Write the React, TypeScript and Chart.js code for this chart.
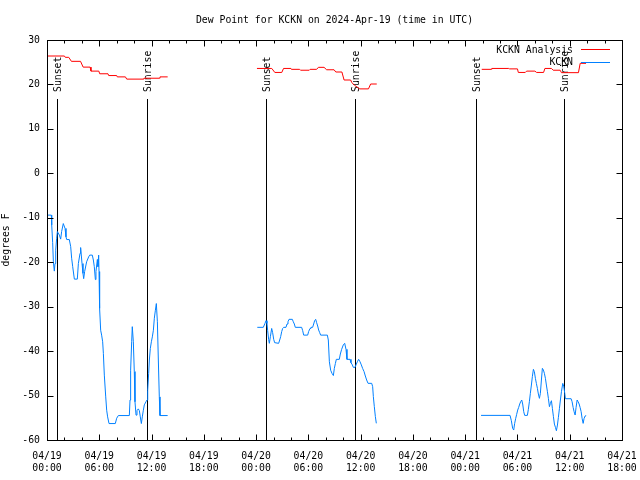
import React, { useEffect, useRef } from 'react';
import { Chart, registerables } from 'chart.js';

Chart.register(...registerables);

const FONT_FAMILY = '"DejaVu Sans Mono", "Liberation Mono", monospace';
const FONT_SIZE = 9.8;

const titleText = 'Dew Point for KCKN on 2024-Apr-19 (time in UTC)';
const yAxisTitle = 'degrees F';
const analysisLabel = 'KCKN Analysis';
const obsLabel = 'KCKN';

// x axis: hours since 2024-04-19 00:00 UTC
const xMin = 0;
const xMax = 66;
const xTickHours = [0, 6, 12, 18, 24, 30, 36, 42, 48, 54, 60, 66];
const xTickDates = ['04/19', '04/19', '04/19', '04/19', '04/20', '04/20', '04/20', '04/20', '04/21', '04/21', '04/21', '04/21'];
const xTickTimes = ['00:00', '06:00', '12:00', '18:00', '00:00', '06:00', '12:00', '18:00', '00:00', '06:00', '12:00', '18:00'];
const yTicks = [30, 20, 10, 0, -10, -20, -30, -40, -50, -60];

// Sunset / sunrise times (hours)
const sunsetHours = [1.16, 25.17, 49.24];
const sunriseHours = [11.51, 35.39, 59.38];

// KCKN Analysis (red)
const analysisHours1 = [0, 2.0, 2.1, 2.5, 2.8, 3.85, 4.15, 4.95, 5.05, 5.95, 6.05, 7.0, 7.08, 8.0, 8.07, 9.0, 9.15, 11.05, 11.13, 12.9, 12.97, 13.85];
const analysisValues1 = [26.4, 26.4, 26.1, 26.1, 25.2, 25.2, 23.9, 23.9, 23.0, 23.0, 22.4, 22.4, 22.0, 22.0, 21.7, 21.7, 21.2, 21.2, 21.4, 21.4, 21.7, 21.7];
const analysisHours2 = [24.1, 25.8, 26.15, 26.95, 27.15, 28.0, 28.05, 29.0, 29.1, 30.1, 30.2, 30.95, 31.15, 31.8, 32.1, 32.95, 33.15, 33.85, 34.1, 34.85, 35.0, 35.3, 35.9, 36.9, 37.15, 37.85];
const analysisValues2 = [23.6, 23.6, 22.7, 22.7, 23.6, 23.6, 23.4, 23.4, 23.2, 23.2, 23.4, 23.4, 23.85, 23.85, 23.3, 23.3, 22.8, 22.8, 21.0, 21.0, 20.4, 19.8, 19.0, 19.0, 20.1, 20.1];
const analysisHours3 = [49.9, 51.0, 51.05, 53.0, 53.1, 54.0, 54.1, 54.9, 55.05, 56.0, 56.2, 57.0, 57.15, 57.9, 58.1, 58.9, 59.05, 61.0, 61.2, 61.87];
const analysisValues3 = [23.4, 23.4, 23.6, 23.6, 23.5, 23.5, 22.7, 22.7, 23.0, 23.0, 22.7, 22.7, 23.6, 23.6, 23.2, 23.2, 22.65, 22.65, 24.75, 24.75];

// KCKN observations (blue)
const obsHours1 = [0.00, 0.50, 0.54, 0.65, 0.73, 0.84, 0.92, 1.00, 1.11, 1.19, 1.42, 1.57, 1.68, 1.87, 2.07, 2.18, 2.26, 2.56, 2.72, 2.83, 2.95, 3.14, 3.48, 3.60, 3.79, 3.86, 4.02, 4.13, 4.21, 4.32, 4.55, 4.78, 4.90, 5.20, 5.32, 5.43, 5.55, 5.62, 5.78, 5.85, 5.93, 5.97, 6.04, 6.16, 6.27, 6.39, 6.47, 6.58, 6.74, 6.85, 6.96, 7.12, 7.84, 8.00, 8.19, 9.45, 9.53, 9.60, 9.72, 9.79, 9.91, 10.02, 10.10, 10.22, 10.33, 10.48, 10.60, 10.71, 10.83, 10.94, 11.06, 11.17, 11.36, 11.48, 11.56, 11.67, 11.75, 11.86, 11.98, 12.09, 12.21, 12.32, 12.44, 12.55, 12.67, 12.78, 12.89, 12.97, 13.85];
const obsValues1 = [-9.4, -9.4, -11.6, -15.6, -19.9, -22.0, -20.3, -17.3, -14.6, -13.1, -13.9, -14.8, -13.1, -11.3, -12.4, -14.3, -14.9, -14.9, -16.5, -19.1, -21.0, -23.8, -23.8, -20.3, -18.0, -16.7, -20.3, -22.5, -23.7, -22.1, -19.9, -18.8, -18.4, -18.4, -19.5, -21.0, -23.9, -22.1, -19.4, -21.0, -18.4, -22.1, -30.4, -35.3, -36.4, -37.9, -40.5, -45.4, -50.3, -53.3, -54.8, -56.3, -56.3, -55.1, -54.5, -54.5, -51.0, -44.3, -37.9, -34.5, -37.9, -44.6, -51.4, -54.4, -53.4, -53.0, -53.4, -54.8, -56.3, -54.8, -53.3, -52.1, -51.4, -51.0, -48.8, -45.0, -42.0, -39.4, -37.9, -36.8, -35.3, -32.6, -30.8, -29.3, -33.4, -42.0, -50.3, -54.5, -54.5];
const obsHours2 = [24.14, 24.83, 25.02, 25.14, 25.25, 25.33, 25.44, 25.52, 25.64, 25.79, 25.90, 26.02, 26.13, 26.59, 26.71, 26.82, 26.94, 27.05, 27.17, 27.43, 27.55, 27.66, 27.78, 28.16, 28.27, 28.39, 28.50, 29.23, 29.35, 29.46, 29.92, 30.03, 30.19, 30.30, 30.49, 30.61, 30.72, 30.84, 30.95, 31.07, 31.18, 31.30, 31.41, 32.18, 32.29, 32.41, 32.56, 32.71, 32.87, 32.98, 33.10, 33.21, 33.55, 33.67, 33.82, 34.01, 34.17, 34.32, 34.43, 34.78, 34.89, 35.05, 35.16, 35.35, 35.47, 35.62, 35.77, 35.93, 36.08, 36.23, 36.39, 36.54, 36.69, 36.85, 37.27, 37.38, 37.46, 37.57, 37.69, 37.80];
const obsValues2 = [-34.65, -34.65, -33.75, -33.15, -33.75, -35.4, -37.35, -38.25, -36.75, -34.9, -35.85, -37.35, -38.1, -38.25, -37.5, -36.75, -35.6, -34.9, -34.65, -34.65, -33.9, -33.4, -32.85, -32.85, -33.4, -33.9, -34.65, -34.65, -35.4, -36.4, -36.4, -35.6, -34.9, -34.65, -34.65, -33.9, -33.15, -32.85, -33.6, -34.35, -35.25, -35.85, -36.4, -36.4, -37.5, -42.4, -44.3, -45.0, -45.5, -43.9, -42.8, -41.85, -41.85, -40.65, -39.6, -38.6, -38.25, -39.6, -41.85, -41.85, -42.6, -43.1, -43.65, -43.65, -43.1, -42.4, -41.85, -42.4, -43.1, -43.9, -44.6, -45.6, -46.5, -47.25, -47.25, -48.0, -50.25, -52.5, -54.75, -56.25];
const obsHours3 = [49.82, 53.15, 53.30, 53.45, 53.57, 53.68, 53.80, 53.91, 54.03, 54.14, 54.26, 54.37, 54.49, 54.60, 54.72, 54.83, 55.14, 55.25, 55.37, 55.48, 55.60, 55.71, 55.83, 55.94, 56.06, 56.17, 56.29, 56.40, 56.52, 56.63, 56.75, 56.86, 56.98, 57.09, 57.21, 57.32, 57.44, 57.55, 57.67, 57.78, 57.90, 58.01, 58.13, 58.24, 58.36, 58.47, 58.59, 58.70, 58.82, 58.93, 59.05, 59.20, 59.31, 59.43, 59.50, 60.16, 60.27, 60.39, 60.50, 60.62, 60.73, 60.85, 60.96, 61.08, 61.19, 61.31, 61.42, 61.54, 61.65, 61.77, 61.84];
const obsValues3 = [-54.46, -54.46, -55.66, -57.38, -57.76, -56.26, -55.13, -54.23, -53.26, -52.66, -51.9, -51.38, -51.0, -51.9, -53.63, -54.46, -54.46, -53.1, -51.38, -49.5, -47.63, -45.75, -44.1, -44.63, -46.13, -47.26, -48.38, -49.66, -50.63, -49.5, -46.5, -43.88, -44.26, -45.0, -46.13, -47.63, -49.13, -50.63, -52.5, -51.76, -51.16, -52.88, -54.76, -56.41, -57.16, -57.91, -56.63, -54.9, -52.88, -51.0, -49.13, -47.26, -47.86, -49.5, -50.71, -50.71, -51.38, -52.66, -53.63, -54.38, -52.66, -51.0, -51.38, -51.9, -52.66, -53.63, -55.13, -56.26, -55.13, -54.6, -54.46];

const RED = '#ff0000';
const BLUE = '#0080ff';

type Pt = { x: number; y: number | null };

function joinSegments(segs: Array<[number[], number[]]>): Pt[] {
  const out: Pt[] = [];
  segs.forEach(([hs, vs], si) => {
    if (si > 0) out.push({ x: (out[out.length - 1].x + hs[0]) / 2, y: null });
    hs.forEach((h, i) => out.push({ x: h, y: vs[i] }));
  });
  return out;
}

const decorPlugin = {
  id: 'decor',
  beforeDatasetsDraw(chart: any) {
    const { ctx, chartArea: a, scales } = chart;
    const x = scales.x;
    ctx.save();
    ctx.strokeStyle = '#000';
    ctx.lineWidth = 1;
    ctx.fillStyle = '#000';
    ctx.font = `${FONT_SIZE}px ${FONT_FAMILY}`;
    const lineTop = a.top + 59;
    const labelY = a.top + 52;
    const drawSun = (hours: number[], text: string) => {
      hours.forEach((h) => {
        const px = Math.round(x.getPixelForValue(h)) + 0.5;
        ctx.beginPath();
        ctx.moveTo(px, lineTop);
        ctx.lineTo(px, a.bottom);
        ctx.stroke();
        ctx.save();
        ctx.translate(px + 1, labelY);
        ctx.rotate(-Math.PI / 2);
        ctx.textAlign = 'left';
        ctx.textBaseline = 'middle';
        ctx.fillText(text, 0, 0);
        ctx.restore();
      });
    };
    drawSun(sunsetHours, 'Sunset');
    drawSun(sunriseHours, 'Sunrise');
    ctx.restore();
  },
  afterDraw(chart: any) {
    const { ctx, chartArea: a, scales } = chart;
    const x = scales.x;
    const y = scales.y;
    ctx.save();
    ctx.strokeStyle = '#000';
    ctx.lineWidth = 1;
    const L = Math.round(a.left) + 0.5;
    const R = Math.round(a.right) + 0.5;
    const T = Math.round(a.top) + 0.5;
    const B = Math.round(a.bottom) + 0.5;
    const seg = (x1: number, y1: number, x2: number, y2: number) => {
      ctx.beginPath();
      ctx.moveTo(x1, y1);
      ctx.lineTo(x2, y2);
      ctx.stroke();
    };
    // ticks
    for (let h = xMin; h <= xMax; h += 2) {
      const px = Math.round(x.getPixelForValue(h)) + 0.5;
      const len = h % 6 === 0 ? 6 : 3;
      seg(px, T, px, T + len);
      seg(px, B, px, B - len);
    }
    yTicks.forEach((v) => {
      const py = Math.round(y.getPixelForValue(v)) + 0.5;
      seg(L, py, L + 6, py);
      seg(R, py, R - 6, py);
    });
    // border
    ctx.strokeRect(L, T, R - L, B - T);

    ctx.fillStyle = '#000';
    ctx.font = `${FONT_SIZE}px ${FONT_FAMILY}`;
    // title
    ctx.textAlign = 'center';
    ctx.textBaseline = 'middle';
    ctx.fillText(titleText, (a.left + a.right) / 2, 20);
    // y axis title
    ctx.save();
    ctx.translate(6, (a.top + a.bottom) / 2);
    ctx.rotate(-Math.PI / 2);
    ctx.fillText(yAxisTitle, 0, 0);
    ctx.restore();
    // legend
    ctx.textAlign = 'right';
    ctx.fillText(analysisLabel, a.right - 49, a.top + 10);
    ctx.fillText(obsLabel, a.right - 49, a.top + 22.5);
    ctx.strokeStyle = RED;
    seg(a.right - 41, a.top + 9.5, a.right - 12, a.top + 9.5);
    ctx.strokeStyle = BLUE;
    seg(a.right - 41, a.top + 22.5, a.right - 12, a.top + 22.5);
    ctx.restore();
  },
};

export default function App() {
  const canvasRef = useRef<HTMLCanvasElement | null>(null);

  useEffect(() => {
    document.body.style.margin = '0';
    const canvas = canvasRef.current;
    if (!canvas) return;
    const chart = new Chart(canvas, {
      type: 'line',
      data: {
        datasets: [
          {
            label: analysisLabel,
            data: joinSegments([
              [analysisHours1, analysisValues1],
              [analysisHours2, analysisValues2],
              [analysisHours3, analysisValues3],
            ]) as any,
            borderColor: RED,
            borderWidth: 1,
            pointRadius: 0,
            tension: 0,
            spanGaps: false,
            fill: false,
          },
          {
            label: obsLabel,
            data: joinSegments([
              [obsHours1, obsValues1],
              [obsHours2, obsValues2],
              [obsHours3, obsValues3],
            ]) as any,
            borderColor: BLUE,
            borderWidth: 1,
            pointRadius: 0,
            tension: 0,
            spanGaps: false,
            fill: false,
          },
        ],
      },
      options: {
        animation: false,
        responsive: false,
        devicePixelRatio: 1,
        layout: { padding: { top: 40, right: 18, bottom: 0, left: 0 } },
        plugins: {
          legend: { display: false },
          title: { display: false },
          tooltip: { enabled: false },
        },
        scales: {
          x: {
            type: 'linear',
            min: xMin,
            max: xMax,
            grid: { display: false, drawTicks: false },
            border: { display: false },
            afterFit: (s: any) => {
              s.height = 40;
              s.paddingLeft = 0;
              s.paddingRight = 0;
            },
            ticks: {
              stepSize: 6,
              autoSkip: false,
              maxRotation: 0,
              minRotation: 0,
              padding: 11,
              color: '#000',
              font: { family: FONT_FAMILY, size: FONT_SIZE },
              callback: (value: any) => {
                const i = xTickHours.indexOf(Number(value));
                return i >= 0 ? [xTickDates[i], xTickTimes[i]] : '';
              },
            },
          },
          y: {
            type: 'linear',
            min: -60,
            max: 30,
            grid: { display: false, drawTicks: false },
            border: { display: false },
            afterFit: (s: any) => {
              s.width = 47;
              s.paddingTop = 0;
              s.paddingBottom = 0;
            },
            ticks: {
              stepSize: 10,
              padding: 7,
              color: '#000',
              font: { family: FONT_FAMILY, size: FONT_SIZE },
            },
          },
        },
      },
      plugins: [decorPlugin],
    });
    return () => chart.destroy();
  }, []);

  return (
    <div style={{ position: 'absolute', left: 0, top: 0, width: 640, height: 480 }}>
      <canvas ref={canvasRef} width={640} height={480} style={{ display: 'block' }} />
    </div>
  );
}
